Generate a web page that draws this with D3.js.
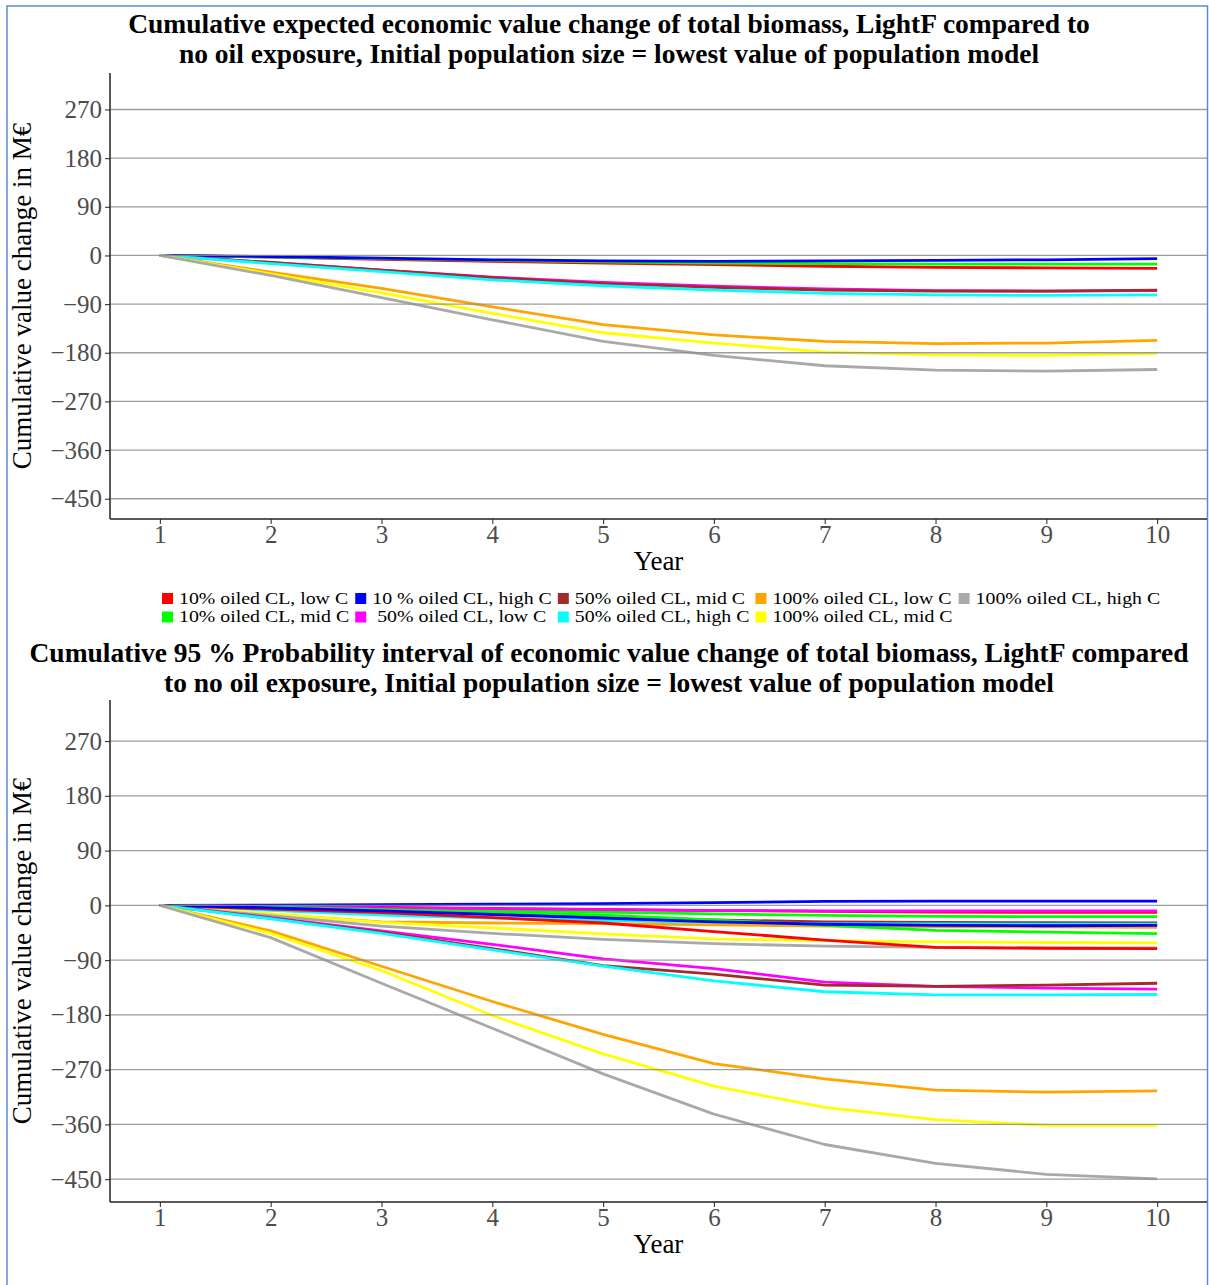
<!DOCTYPE html>
<html>
<head>
<meta charset="utf-8">
<script src="https://cdn.jsdelivr.net/npm/d3@7"></script>
<style>
  html, body { margin: 0; padding: 0; background: #fff; }
  svg { display: block; }
  text { font-family: "Liberation Serif", "Times New Roman", serif; }
</style>
</head>
<body>
<div id="chart"></div>
<script>
// Years on the x axis
const years = [1, 2, 3, 4, 5, 6, 7, 8, 9, 10];

// Scenario labels (legend order, filled column by column) and colours
const scenarioLabels = [
  "10% oiled CL, low C", "10% oiled CL, mid C", "10 % oiled CL, high C",
  " 50% oiled CL, low C", "50% oiled CL, mid C", "50% oiled CL, high C",
  "100% oiled CL, low C", "100% oiled CL, mid C", "100% oiled CL, high C"
];
const scenarioColors = [
  "#FF0000", "#00FF00", "#0000FF",
  "#FF00FF", "#A52A2A", "#00FFFF",
  "#FFA500", "#FFFF00", "#A9A9A9"
];

// Expected cumulative value change (M€), one array per scenario
const exp10Low   = [0, -3, -7, -11, -14, -17, -20, -22, -23, -24];
const exp10Mid   = [0, -3, -6, -9, -12, -14, -15, -16, -16, -16];
const exp10High  = [0, -2, -5, -8, -10, -11, -10, -9, -8, -6];
const exp50Low   = [0, -13, -27, -40, -50, -57, -62, -65, -66, -65];
const exp50Mid   = [0, -13, -27, -41, -52, -59, -64, -66, -66, -64];
const exp50High  = [0, -15, -30, -45, -56, -64, -70, -73, -74, -73];
const exp100Low  = [0, -31, -61, -95, -128, -147, -159, -163, -162, -157];
const exp100Mid  = [0, -34, -69, -107, -143, -162, -179, -184, -185, -181];
const exp100High = [0, -37, -78, -119, -159, -185, -204, -212, -214, -211];

// 95 % probability interval bounds (M€), upper and lower per scenario
const up10Low   = [0, -2, -3.5, -5, -6.5, -8.5, -10, -11, -11.5, -11.5];
const lo10Low   = [0, -6, -12, -20, -29, -43, -57, -69, -70.5, -71];
const up10Mid   = [0, -2.5, -5, -8, -11, -14, -16.5, -18, -18.5, -18.5];
const lo10Mid   = [0, -3, -7, -11, -16, -24, -33, -41, -44, -46.5];
const up10High  = [0, 0.5, 1, 2, 3, 4.5, 6.5, 7, 7, 7];
const lo10High  = [0, -4, -9, -15, -21, -27, -31, -33, -33.5, -33];
const up50Low   = [0, -2, -4, -5.5, -7, -8.5, -9, -9.3, -9.3, -9.3];
const lo50Low   = [0, -20, -42, -64, -88, -104, -126, -133, -136, -137.5];
const up50Mid   = [0, -4, -9, -14, -19, -24, -27, -28, -28.5, -29];
const lo50Mid   = [0, -21, -44, -71, -99, -113, -131, -133, -131, -128];
const up50High  = [0, -8, -16, -21, -25, -28, -30, -30.5, -31, -31];
const lo50High  = [0, -22, -46, -73, -100, -124, -142, -147, -147, -146.5];
const up100Low  = [0, -15, -27, -29, -30, -32, -34, -35, -35.5, -36];
const lo100Low  = [0, -42, -100, -158, -212, -260, -285, -303.5, -307, -305];
const up100Mid  = [0, -14, -28, -37, -47, -55, -58, -60, -61, -61.5];
const lo100Mid  = [0, -46, -107, -181, -244, -297, -332, -352, -361.5, -361.5];
const up100High = [0, -17, -34, -46, -56, -63, -67, -69, -70, -70];
const lo100High = [0, -53, -128, -202, -277, -343, -393, -424, -442, -449.5];

// Axis ticks
const yTicks = [270, 180, 90, 0, -90, -180, -270, -360, -450];
const xTicks = years;

const expectedSeries = [exp10Low, exp10Mid, exp10High, exp50Low, exp50Mid, exp50High, exp100Low, exp100Mid, exp100High];
const upperSeries = [up10Low, up10Mid, up10High, up50Low, up50Mid, up50High, up100Low, up100Mid, up100High];
const lowerSeries = [lo10Low, lo10Mid, lo10High, lo50Low, lo50Mid, lo50High, lo100Low, lo100Mid, lo100High];

const W = 1209, H = 1285;
const svg = d3.select("#chart").append("svg")
  .attr("width", W).attr("height", H)
  .attr("viewBox", `0 0 ${W} ${H}`);

svg.append("rect").attr("width", W).attr("height", H).attr("fill", "#fff");

// Thin frame around the figure
svg.append("rect")
  .attr("x", 7).attr("y", 6).attr("width", W - 8.5).attr("height", H + 10)
  .attr("fill", "none").attr("stroke", "#5B8AD0").attr("stroke-width", 1.5);

const yDomain = [-487.5, 337.5];
const xDomain = [0.55, 10.45];
const fmt = v => v < 0 ? "\u2212" + Math.abs(v) : String(v);

function drawPanel(cfg) {
  const { top, bottom, left, right, lines, titleLines, titleY } = cfg;
  const x = d3.scaleLinear().domain(xDomain).range([left, right]);
  const y = d3.scaleLinear().domain(yDomain).range([bottom, top]);
  const g = svg.append("g");

  // Title
  titleLines.forEach((t, i) => {
    g.append("text")
      .attr("x", 609).attr("y", titleY + i * 29.5)
      .attr("text-anchor", "middle")
      .attr("font-size", 27.5).attr("font-weight", "bold")
      .attr("fill", "#000")
      .text(t);
  });

  // Data lines
  const line = d3.line().x((d, i) => x(years[i])).y(d => y(d));
  const lg = g.append("g");
  lines.forEach(s => {
    lg.append("path")
      .attr("d", line(s.values))
      .attr("fill", "none")
      .attr("stroke", s.color)
      .attr("stroke-width", 2.8)
      .attr("stroke-linejoin", "round");
  });

  // Horizontal grid lines (drawn over the series)
  g.append("g").selectAll("line").data(yTicks).join("line")
    .attr("x1", left).attr("x2", right)
    .attr("y1", d => y(d)).attr("y2", d => y(d))
    .attr("stroke", "#8c8c8c").attr("stroke-opacity", 0.85).attr("stroke-width", 1.3);

  // Y axis
  const yAxis = g.append("g").attr("transform", `translate(${left},0)`)
    .call(d3.axisLeft(y).tickValues(yTicks).tickFormat(fmt).tickSize(5).tickPadding(3));
  yAxis.select(".domain").remove();
  yAxis.selectAll(".tick line").attr("stroke", "#333").attr("stroke-width", 1.1);
  yAxis.selectAll(".tick text")
    .attr("font-family", "Liberation Serif, serif")
    .attr("font-size", 25).attr("fill", "#4D4D4D");
  g.append("line").attr("x1", left).attr("x2", left).attr("y1", top).attr("y2", bottom)
    .attr("stroke", "#222").attr("stroke-width", 1.5);

  // X axis
  const xAxis = g.append("g").attr("transform", `translate(0,${bottom})`)
    .call(d3.axisBottom(x).tickValues(xTicks).tickFormat(d3.format("d")).tickSize(5).tickPadding(1));
  xAxis.select(".domain").remove();
  xAxis.selectAll(".tick line").attr("stroke", "#333").attr("stroke-width", 1.1);
  xAxis.selectAll(".tick text")
    .attr("font-family", "Liberation Serif, serif")
    .attr("font-size", 25).attr("fill", "#4D4D4D");
  g.append("line").attr("x1", left).attr("x2", right).attr("y1", bottom).attr("y2", bottom)
    .attr("stroke", "#222").attr("stroke-width", 1.5);

  // Axis titles
  g.append("text")
    .attr("x", (x(1) + x(10)) / 2).attr("y", bottom + 51)
    .attr("text-anchor", "middle").attr("font-size", 27).attr("fill", "#000")
    .text("Year");
  g.append("text")
    .attr("transform", `translate(31,${(top + bottom) / 2}) rotate(-90)`)
    .attr("text-anchor", "middle").attr("font-size", 27).attr("fill", "#000")
    .text("Cumulative value change in M\u20AC");
}

// Upper panel: expected values
drawPanel({
  top: 73, bottom: 519, left: 110, right: 1207,
  titleY: 33,
  titleLines: [
    "Cumulative expected economic value change of total biomass, LightF compared to",
    "no oil exposure, Initial population size = lowest value of population model"
  ],
  lines: expectedSeries.map((v, i) => ({ values: v, color: scenarioColors[i] }))
});

// Lower panel: 95 % probability interval bounds
drawPanel({
  top: 700, bottom: 1202, left: 110, right: 1207,
  titleY: 662,
  titleLines: [
    "Cumulative 95 % Probability interval of economic value change of total biomass, LightF compared",
    "to no oil exposure, Initial population size = lowest value of population model"
  ],
  lines: upperSeries.map((v, i) => ({ values: v, color: scenarioColors[i] }))
    .concat(lowerSeries.map((v, i) => ({ values: v, color: scenarioColors[i] })))
});

// Legend: 2 rows, filled column by column; labels are set in a
// compact size and widened horizontally so the rows stay apart
const legend = svg.append("g");
const legendFont = 16;
const legendStretch = 1.24;
const keySize = 11;
const rowY = [598.5, 617];
const nCols = Math.ceil(scenarioLabels.length / 2);
let colX = 162;
for (let c = 0; c < nCols; c++) {
  let maxW = 0;
  for (let r = 0; r < 2; r++) {
    const idx = c * 2 + r;
    if (idx >= scenarioLabels.length) continue;
    legend.append("rect")
      .attr("x", colX).attr("y", rowY[r] - keySize / 2)
      .attr("width", keySize).attr("height", keySize)
      .attr("fill", scenarioColors[idx]);
    const t = legend.append("text")
      .attr("transform", `translate(${colX + keySize + 6},${rowY[r]}) scale(${legendStretch},1)`)
      .attr("dominant-baseline", "central")
      .attr("font-size", legendFont).attr("fill", "#000")
      .style("white-space", "pre")
      .text(scenarioLabels[idx]);
    maxW = Math.max(maxW, t.node().getComputedTextLength() * legendStretch);
  }
  colX += keySize + 6 + maxW + 6;
}
</script>
</body>
</html>
